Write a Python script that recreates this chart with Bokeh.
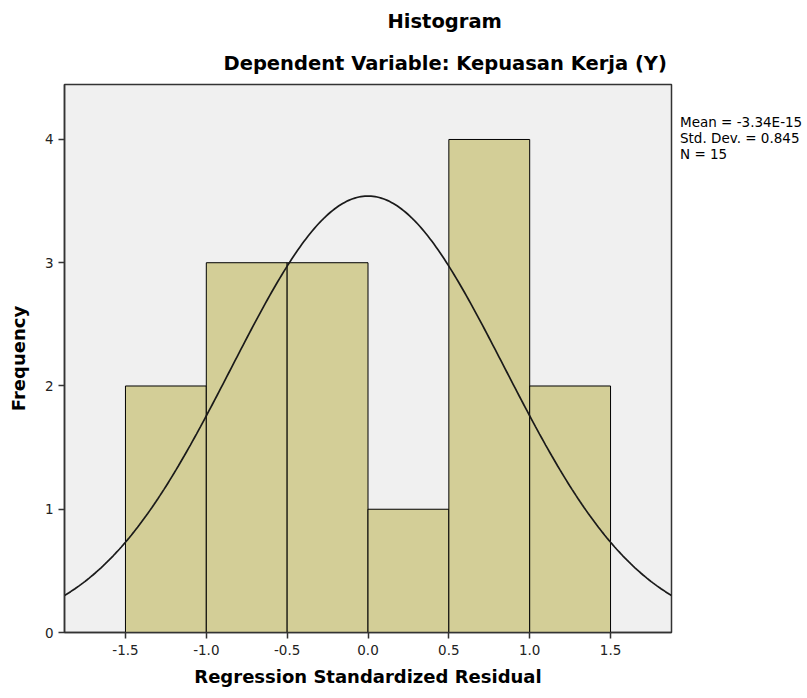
import numpy as np
from bokeh.plotting import figure
from bokeh.models import Range1d, FixedTicker, NumeralTickFormatter, Title, Legend, LegendItem
from bokeh.embed import file_html
from bokeh.resources import INLINE

# ---- data ----
bin_left = [-1.5, -1.0, -0.5, 0.0, 0.5, 1.0]
bin_right = [-1.0, -0.5, 0.0, 0.5, 1.0, 1.5]
counts = [2, 3, 3, 1, 4, 2]
mean = -3.34e-15
std_dev = 0.845
n_obs = 15
x_ticks = [-1.5, -1.0, -0.5, 0.0, 0.5, 1.0, 1.5]
y_ticks = [0, 1, 2, 3, 4]
stats_lines = ["Mean = -3.34E-15", "Std. Dev. = 0.845", "N = 15"]
title_text = "Histogram"
subtitle_text = "Dependent Variable: Kepuasan Kerja (Y)"

FONT = "DejaVu Sans"
x0, x1 = -1.877, 1.877
y0, y1 = 0.0, 4.446

p = figure(frame_width=607, frame_height=548, output_backend="svg", toolbar_location=None,
           x_range=Range1d(x0, x1), y_range=Range1d(y0, y1),
           min_border_left=64, min_border_right=134,
           min_border_top=84, min_border_bottom=64)

p.background_fill_color = "#f0f0f0"
p.border_fill_color = "white"
p.outline_line_color = "#333333"
p.outline_line_width = 1.5
p.grid.visible = False

p.quad(left=bin_left, right=bin_right, bottom=0, top=counts,
       fill_color="#d3ce97", line_color="black", line_width=1)

bw = bin_right[0] - bin_left[0]
xs = np.linspace(x0, x1, 300)
ys = n_obs * bw / (std_dev * np.sqrt(2 * np.pi)) * np.exp(-0.5 * ((xs - mean) / std_dev) ** 2)
p.line(xs, ys, line_color="#1a1a1a", line_width=1.7)

for ax in (p.xaxis[0], p.yaxis[0]):
    ax.axis_line_color = "#333333"
    ax.axis_line_width = 1.5
    ax.major_tick_line_color = "#333333"
    ax.major_tick_line_width = 1.5
    ax.major_tick_out = 6
    ax.major_tick_in = 0
    ax.minor_tick_line_color = None
    ax.major_label_text_font = FONT
    ax.major_label_text_font_size = "13.5px"
    ax.major_label_text_color = "#222222"
    ax.axis_label_text_font = FONT
    ax.axis_label_text_font_size = "18px"
    ax.axis_label_text_font_style = "bold"
    ax.axis_label_text_color = "black"

p.xaxis.ticker = FixedTicker(ticks=x_ticks)
p.xaxis.formatter = NumeralTickFormatter(format="0.0")
p.xaxis.axis_label = "Regression Standardized Residual"
p.xaxis.major_label_standoff = 6
p.xaxis.axis_label_standoff = 8

p.yaxis.ticker = FixedTicker(ticks=y_ticks)
p.yaxis.axis_label = "Frequency"
p.yaxis.major_label_standoff = 5
p.yaxis.axis_label_standoff = 13

# titles (outer: Histogram, inner: dependent variable line)
p.title.text = title_text
p.title.align = "left"
p.title.offset = 323
p.title.text_font = FONT
p.title.text_font_size = "19.5px"
p.title.text_font_style = "bold"
p.title.text_color = "black"
p.title.standoff = 15
p.add_layout(Title(text=subtitle_text, align="left", offset=159, text_font=FONT,
                   text_font_size="19.5px", text_font_style="bold",
                   text_color="black", standoff=19), "above")

# statistics box on the right (legend without visible glyphs)
dummy = p.scatter(x=[], y=[], size=0, fill_alpha=0, line_alpha=0)
items = [LegendItem(label=" ", renderers=[dummy]), LegendItem(label=" ", renderers=[dummy])]
items += [LegendItem(label=s, renderers=[dummy]) for s in stats_lines]
leg = Legend(items=items, location="top_left", margin=0, padding=0, spacing=0,
             glyph_width=1, glyph_height=15, label_height=15, label_standoff=8,
             label_text_font=FONT, label_text_font_size="13.5px",
             label_text_color="black", label_text_baseline="middle",
             border_line_alpha=0, background_fill_alpha=0)
p.add_layout(leg, "right")

open("out.html", "w").write(file_html(p, INLINE))
